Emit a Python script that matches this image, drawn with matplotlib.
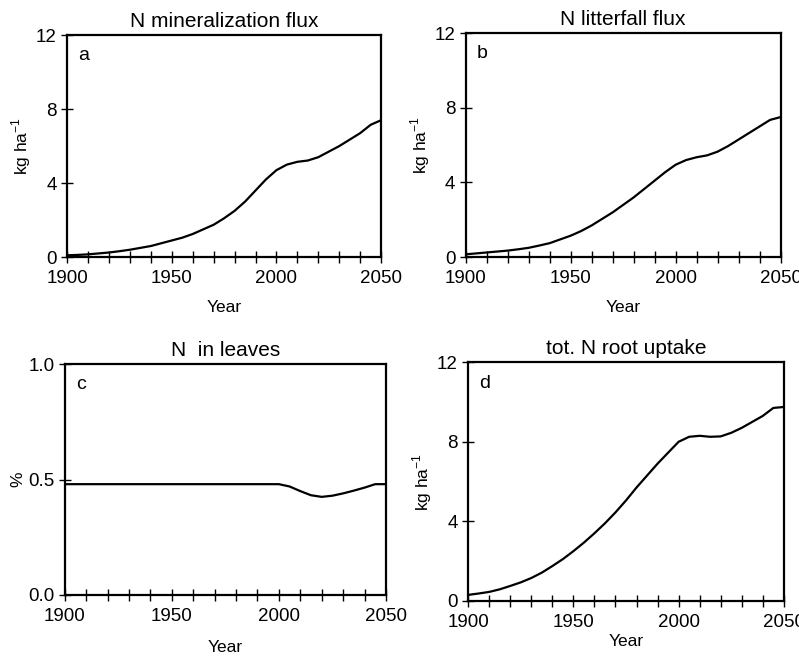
import matplotlib
matplotlib.use("Agg")
import matplotlib.pyplot as plt
from matplotlib.ticker import MultipleLocator

plt.rcParams['font.family'] = ['Liberation Sans', 'DejaVu Sans']

# values, every 5 years
years = list(range(1900, 2051, 5))
n_mineral = [0.1, 0.12, 0.15, 0.2, 0.25, 0.32, 0.4, 0.5, 0.6, 0.75, 0.9,
             1.05, 1.25, 1.5, 1.75, 2.1, 2.5, 3.0, 3.6, 4.2, 4.7,
             5.0, 5.15, 5.22, 5.4, 5.7, 6.0, 6.35, 6.7, 7.15, 7.4]
n_litter = [0.15, 0.2, 0.25, 0.3, 0.35, 0.42, 0.5, 0.62, 0.75, 0.95, 1.15,
            1.4, 1.7, 2.05, 2.4, 2.8, 3.2, 3.65, 4.1, 4.55, 4.95,
            5.2, 5.35, 5.45, 5.65, 5.95, 6.3, 6.65, 7.0, 7.35, 7.5]
n_leaves = [0.48] * 21 + [0.47, 0.45, 0.432, 0.425, 0.43, 0.44, 0.452,
                          0.465, 0.48, 0.48]
n_uptake = [0.3, 0.37, 0.45, 0.58, 0.75, 0.93, 1.15, 1.42, 1.75, 2.1, 2.5,
            2.93, 3.4, 3.9, 4.45, 5.05, 5.7, 6.3, 6.9, 7.45, 8.0,
            8.25, 8.3, 8.25, 8.27, 8.45, 8.7, 9.0, 9.3, 9.7, 9.75]

ylab_kg = "kg ha$^{\\mathregular{-1}}$"
panels = [
    ("N mineralization flux", "a", n_mineral, ylab_kg, 12, [0, 4, 8, 12], "{:g}"),
    ("N litterfall flux", "b", n_litter, ylab_kg, 12, [0, 4, 8, 12], "{:g}"),
    ("N  in leaves", "c", n_leaves, "%", 1.0, [0.0, 0.5, 1.0], "{:.1f}"),
    ("tot. N root uptake", "d", n_uptake, ylab_kg, 12, [0, 4, 8, 12], "{:g}"),
]
# axes boxes [left, bottom, width, height] in figure fractions
boxes = [
    [0.084, 0.611, 0.393, 0.336],
    [0.583, 0.611, 0.394, 0.339],
    [0.081, 0.100, 0.402, 0.349],
    [0.586, 0.091, 0.395, 0.361],
]
year_pad = [9, 9, 11, 2]

fig = plt.figure(figsize=(7.99, 6.61), dpi=100)

for (title, letter, vals, ylab, ymax, yticks, fmt), box, ypad in zip(panels, boxes, year_pad):
    ax = fig.add_axes(box)
    ax.plot(years, vals, color="black", lw=1.6)
    ax.set_xlim(1900, 2050)
    ax.set_ylim(0, ymax)
    ax.set_xticks([1900, 1950, 2000, 2050])
    ax.xaxis.set_minor_locator(MultipleLocator(10))
    ax.set_yticks(yticks)
    ax.set_yticklabels([fmt.format(t) for t in yticks])
    ax.tick_params(axis="x", which="both", direction="inout", length=9, width=1,
                   labelsize=13.5, pad=5)
    ax.tick_params(axis="y", direction="inout", length=9, width=1,
                   labelsize=13.5, pad=3)
    for sp in ax.spines.values():
        sp.set_linewidth(1.6)
    ax.set_title(title, fontsize=15, pad=6)
    ax.set_xlabel("Year", fontsize=12.5, labelpad=ypad)
    ax.set_ylabel(ylab, fontsize=12.5, labelpad=2)
    ax.text(0.035, 0.91, letter, transform=ax.transAxes, fontsize=14,
            va="center", ha="left")

fig.savefig("out.png", dpi=100)
